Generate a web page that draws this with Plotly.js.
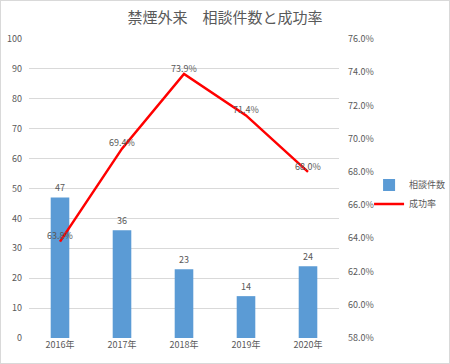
<!DOCTYPE html>
<html><head><meta charset="utf-8">
<script src="https://cdn.plot.ly/plotly-3.0.1.min.js"></script>
<style>html,body{margin:0;padding:0;background:#fff}
#wrap{width:448px;height:362px;border:1px solid #d9d9d9;}
#chart{width:448px;height:362px;}</style>
</head><body><div id="wrap"><div id="chart"></div></div>
<script>
const categories = ["2016年","2017年","2018年","2019年","2020年"];
const consultCounts = [47,36,23,14,24];
const successRates = [0.638,0.694,0.739,0.714,0.680];
const seriesNames = ["相談件数","成功率"];
const chartTitle = "禁煙外来　相談件数と成功率";

const FONT = "'Noto Sans CJK JP', 'Noto Sans', sans-serif";
const GREY = "#595959";

const data = [
  {type:"bar", name:seriesNames[0], x:categories, y:consultCounts,
   marker:{color:"#5b9bd5"}, text:consultCounts.map(String), textposition:"outside",
   textfont:{size:9,color:GREY,family:FONT}, cliponaxis:false, hoverinfo:"skip"},
  {type:"scatter", mode:"lines+text", name:seriesNames[1], x:categories, y:successRates, yaxis:"y2",
   line:{color:"#ff0000",width:2.5}, text:successRates.map(v=>(v*100).toFixed(1)+"%"),
   textposition:"top center", textfont:{size:9,color:GREY,family:FONT}, cliponaxis:false}
];

const layout = {
  width:448, height:362,
  margin:{l:28,r:110,t:38,b:25,autoexpand:false},
  paper_bgcolor:"#fff", plot_bgcolor:"#fff",
  font:{family:FONT,color:GREY,size:9},
  title:{text:chartTitle, font:{size:15,color:GREY,family:FONT}, x:0.5, xanchor:"center", y:0.955, yanchor:"middle"},
  bargap:0.7,
  showlegend:true,
  legend:{x:1.097, xanchor:"left", y:0.48, yanchor:"middle", font:{size:9,color:GREY}, bgcolor:"rgba(0,0,0,0)", tracegroupgap:0, itemwidth:30},
  xaxis:{type:"category", showgrid:false, zeroline:false, showline:false, ticks:"", tickfont:{size:9,color:GREY}},
  yaxis:{range:[0,100], dtick:10, showgrid:true, gridcolor:"#d9d9d9", gridwidth:1, zeroline:false, showline:false, ticks:"", tickfont:{size:9,color:GREY}, ticklabelstandoff:6},
  yaxis2:{overlaying:"y", side:"right", range:[0.58,0.76], dtick:0.02, tickformat:".1%", showgrid:false, zeroline:false, showline:false, ticks:"", tickfont:{size:9,color:GREY}, ticklabelstandoff:8}
};
Plotly.newPlot("chart", data, layout, {staticPlot:true, displayModeBar:false});
</script></body></html>
